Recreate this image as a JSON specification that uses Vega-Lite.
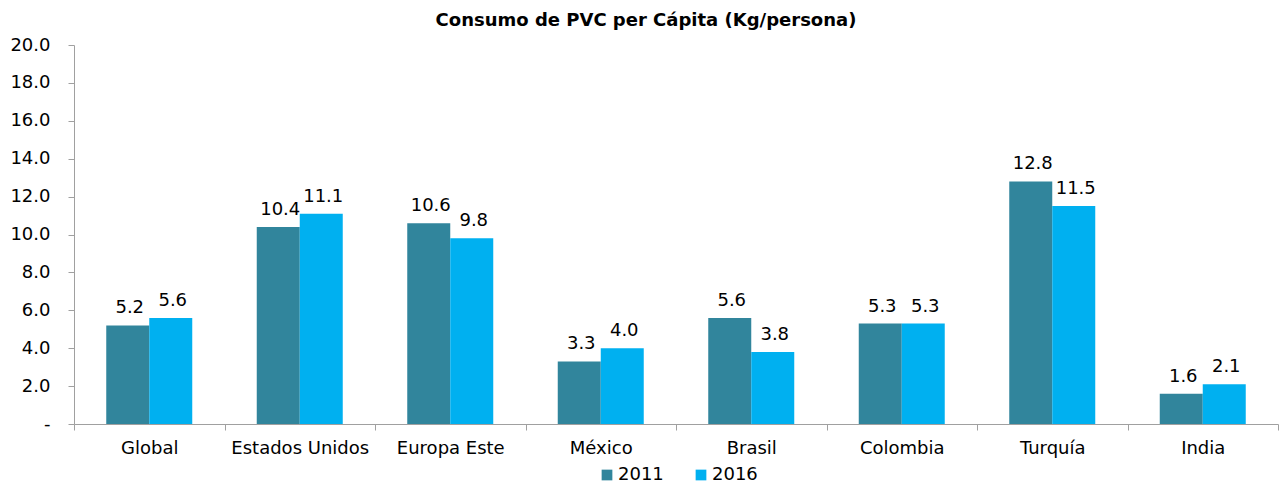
{
  "$schema": "https://vega.github.io/schema/vega-lite/v6.json",
  "autosize": {"type": "none"},
  "padding": {"left": 74, "top": 45, "right": 3, "bottom": 61},
  "width": 1204,
  "height": 379,
  "background": "white",
  "title": {
    "text": "Consumo de PVC per Cápita (Kg/persona)",
    "font": "DejaVu Sans",
    "fontSize": 18,
    "fontWeight": "bold",
    "color": "#000000",
    "anchor": "middle",
    "dx": -30,
    "offset": 6
  },
  "config": {
    "view": {"stroke": null},
    "font": "DejaVu Sans"
  },
  "data": {
    "values": [
      {"region": "Global", "year": "2011", "value": 5.2},
      {"region": "Global", "year": "2016", "value": 5.6},
      {"region": "Estados Unidos", "year": "2011", "value": 10.4},
      {"region": "Estados Unidos", "year": "2016", "value": 11.1},
      {"region": "Europa Este", "year": "2011", "value": 10.6},
      {"region": "Europa Este", "year": "2016", "value": 9.8},
      {"region": "México", "year": "2011", "value": 3.3},
      {"region": "México", "year": "2016", "value": 4.0},
      {"region": "Brasil", "year": "2011", "value": 5.6},
      {"region": "Brasil", "year": "2016", "value": 3.8},
      {"region": "Colombia", "year": "2011", "value": 5.3},
      {"region": "Colombia", "year": "2016", "value": 5.3},
      {"region": "Turquía", "year": "2011", "value": 12.8},
      {"region": "Turquía", "year": "2016", "value": 11.5},
      {"region": "India", "year": "2011", "value": 1.6},
      {"region": "India", "year": "2016", "value": 2.1}
    ]
  },
  "encoding": {
    "x": {
      "field": "region",
      "type": "nominal",
      "sort": null,
      "scale": {"paddingInner": 0, "paddingOuter": 0},
      "axis": {
        "title": null,
        "labelAngle": 0,
        "labelFontSize": 18,
        "labelColor": "#000000",
        "labelPadding": 9,
        "tickBand": "extent",
        "tickSize": 6,
        "tickColor": "#a0a0a0",
        "domainColor": "#a0a0a0",
        "grid": false
      }
    },
    "xOffset": {
      "field": "year",
      "type": "nominal",
      "scale": {"paddingInner": 0, "paddingOuter": 0.75}
    },
    "y": {
      "field": "value",
      "type": "quantitative",
      "scale": {"domain": [0, 20], "nice": false},
      "axis": {
        "title": null,
        "values": [0, 2, 4, 6, 8, 10, 12, 14, 16, 18, 20],
        "labelExpr": "datum.value == 0 ? '-' : format(datum.value, '.1f')",
        "labelFontSize": 18,
        "labelColor": "#000000",
        "labelPadding": 18,
        "tickSize": 6,
        "tickColor": "#a0a0a0",
        "domainColor": "#a0a0a0",
        "grid": false
      }
    }
  },
  "layer": [
    {
      "mark": {"type": "bar"},
      "encoding": {
        "color": {
          "field": "year",
          "type": "nominal",
          "scale": {"domain": ["2011", "2016"], "range": ["#31859C", "#00B0F0"]},
          "legend": {
            "title": null,
            "orient": "none",
            "direction": "horizontal",
            "legendX": 524,
            "legendY": 421,
            "symbolType": "square",
            "symbolSize": 115,
            "symbolStrokeWidth": 0,
            "labelFontSize": 18,
            "labelColor": "#000000",
            "labelOffset": 2,
            "columnPadding": 28
          }
        }
      }
    },
    {
      "mark": {"type": "text", "baseline": "alphabetic", "dy": -12, "dx": 2, "fontSize": 18, "color": "#000000"},
      "encoding": {
        "text": {"field": "value", "type": "quantitative", "format": ".1f"}
      }
    }
  ]
}
